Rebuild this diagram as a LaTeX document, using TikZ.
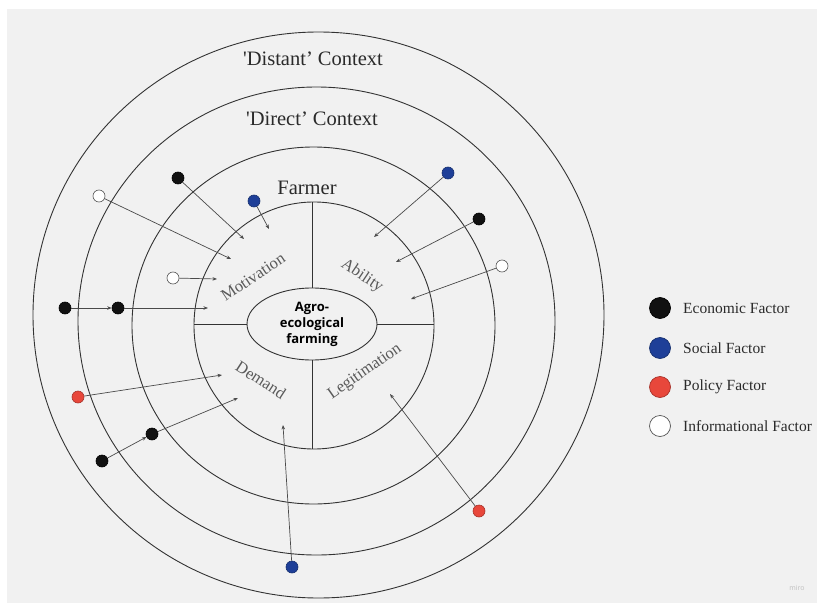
\documentclass[tikz,border=0pt]{standalone}
\usepackage{fontspec}
\setmainfont{Liberation Serif}
\newfontfamily\corefont{Open Sans}
\setsansfont{Open Sans}
\usetikzlibrary{shapes.geometric,arrows.meta}
\definecolor{bgc}{HTML}{F1F1F1}
\definecolor{ringc}{HTML}{333333}
\definecolor{linkc}{HTML}{4A4A4A}
\definecolor{textc}{HTML}{2A2A2A}
\definecolor{quadc}{HTML}{5A5A5A}
\definecolor{econc}{HTML}{111111}
\definecolor{socc}{HTML}{1E3F98}
\definecolor{socd}{HTML}{16306F}
\definecolor{polc}{HTML}{E8473B}
\definecolor{pold}{HTML}{A8322A}
\definecolor{infod}{HTML}{555555}
\begin{document}
\begin{tikzpicture}[x=1pt,y=-1pt,
  ring/.style={ellipse,draw=ringc,line width=0.9pt,inner sep=0pt},
  divider/.style={draw=ringc,line width=0.8pt},
  dot/.style={circle,inner sep=0pt,minimum size=12pt,line width=0.6pt},
  econ/.style={dot,fill=econc,draw=black},
  soc/.style={dot,fill=socc,draw=socd},
  pol/.style={dot,fill=polc,draw=pold},
  info/.style={dot,fill=white,draw=infod},
  link/.style={draw=linkc,line width=0.7pt,-{Stealth[length=4.5pt,width=3.5pt]}},
  quad/.style={text=quadc,font=\fontsize{16.5}{18}\selectfont,inner sep=0pt},
  ctx/.style={font=\fontsize{20.5}{24}\selectfont,text=textc,inner sep=0pt},
  legtext/.style={anchor=west,font=\fontsize{15.5}{18}\selectfont,text=textc,inner sep=0pt},
  legdot/.style={circle,inner sep=0pt,minimum size=21pt,line width=0.7pt}
]
\useasboundingbox (0,0) rectangle (817,605);
\fill[white] (0,0) rectangle (817,605);
\fill[bgc] (7,9) rectangle (817,603);

% rings
\node[ring,minimum width=571pt,minimum height=566pt] (distant) at (318.5,315) {};
\node[ring,minimum width=477pt,minimum height=468pt] (direct) at (316.5,321) {};
\node[ring,minimum width=363pt,minimum height=357pt] (outerfarm) at (313.5,325.5) {};
\node[ring,minimum width=240pt,minimum height=247pt] (farm) at (314,325.5) {};
\node[ring,minimum width=130pt,minimum height=72pt,align=center,
      font=\corefont\bfseries\fontsize{13}{16}\selectfont,text=black] (core) at (312,324)
      {Agro-\\ecological\\farming};

% dividers
\draw[divider] (core.north) -- (core.north |- farm.north);
\draw[divider] (core.south) -- (core.south |- farm.south);
\draw[divider] (core.west) -- (farm.west |- core.west);
\draw[divider] (core.east) -- (farm.east |- core.east);

% labels
\node[ctx] (distlab) at (313,59) {\textquotesingle Distant' Context};
\node[ctx] (dirlab) at (312,119) {\textquotesingle Direct' Context};
\node[ctx] (farmlab) at (307,188) {Farmer};
\node[quad,rotate=34] (motiv) at (253,277) {Motivation};
\node[quad,rotate=-34] (abil) at (362,276) {Ability};
\node[quad,rotate=-33] (dem) at (261,380) {Demand};
\node[quad,rotate=35] (legit) at (365,372) {Legitimation};

% factor dots and arrows
\node[info] (a) at (99,196) {};
\coordinate (ta) at (231,259);
\draw[link] (a) -- (ta);

\node[econ] (b) at (178,178) {};
\coordinate (tb) at (244,239);
\draw[link] (b) -- (tb);

\node[soc] (c) at (254,201) {};
\coordinate (tc) at (269,229);
\draw[link] (c) -- (tc);

\node[info] (d) at (173,278) {};
\coordinate (td) at (217,279);
\draw[link] (d) -- (td);

\node[econ] (e) at (65,308) {};
\node[econ] (f) at (118,308) {};
\coordinate (tf) at (208,308);
\draw[link] (e) -- (f);
\draw[link] (f) -- (tf);

\node[pol] (g) at (78,397) {};
\coordinate (tg) at (222,375);
\draw[link] (g) -- (tg);

\node[econ] (h) at (102,461) {};
\node[econ] (i) at (152,434) {};
\coordinate (ti) at (238,398);
\draw[link] (h) -- (i);
\draw[link] (i) -- (ti);

\node[soc] (j) at (292,567) {};
\coordinate (tj) at (283,425);
\draw[link] (j) -- (tj);

\node[soc] (k) at (448,173) {};
\coordinate (tk) at (374,237);
\draw[link] (k) -- (tk);

\node[econ] (l) at (479,219) {};
\coordinate (tl) at (396,262);
\draw[link] (l) -- (tl);

\node[info] (m) at (502,266) {};
\coordinate (tm) at (411,299);
\draw[link] (m) -- (tm);

\node[pol] (n) at (479,511) {};
\coordinate (tn) at (390,394);
\draw[link] (n) -- (tn);

% legend
\node[legdot,fill=econc,draw=black] (le) at (660,308) {};
\node[legtext] (lte) at (683,308) {Economic Factor};
\node[legdot,fill=socc,draw=socd] (ls) at (660,348) {};
\node[legtext] (lts) at (683,348) {Social Factor};
\node[legdot,fill=polc,draw=pold] (lp) at (660,387) {};
\node[legtext] (ltp) at (683,387) {Policy Factor};
\node[legdot,fill=white,draw=infod] (li) at (660,426) {};
\node[legtext] (lti) at (683,426) {Informational Factor};

\node[font=\sffamily\fontsize{7}{8}\selectfont,text=black!25] (miro) at (797,588) {miro};
\end{tikzpicture}
\end{document}
